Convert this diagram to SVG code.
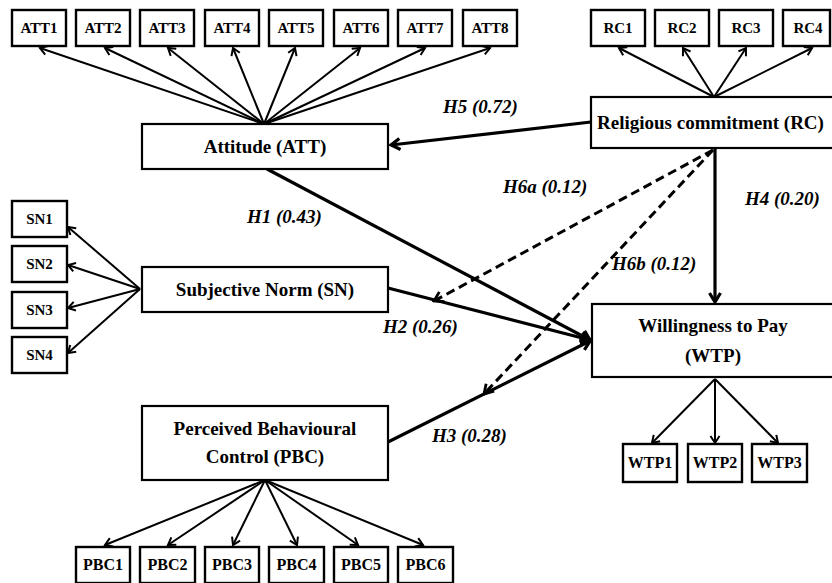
<svg xmlns="http://www.w3.org/2000/svg" width="832" height="583" viewBox="0 0 832 583">
<style>
.box{fill:#fff;stroke:#000;stroke-width:2.4}
.main{fill:#fff;stroke:#000;stroke-width:2.2}
.t{font-family:"Liberation Serif","Times New Roman",serif;font-weight:bold;fill:#000;text-anchor:middle}
.it{font-size:15px}
.mn{font-size:19px}
.lb{font-family:"Liberation Serif","Times New Roman",serif;font-weight:bold;font-style:italic;font-size:19px;fill:#000}
.thin{stroke:#000;stroke-width:2;fill:none;marker-end:url(#ah)}
.thick{stroke:#000;stroke-width:3.2;fill:none;marker-end:url(#ahb)}
.dash{stroke:#000;stroke-width:3;fill:none;stroke-dasharray:9 5;marker-end:url(#ahd)}
</style>
<defs>
<marker id="ah" viewBox="-10 -6 12 12" refX="0" refY="0" markerWidth="12" markerHeight="12" markerUnits="userSpaceOnUse" orient="auto">
<path d="M-7,-4.5 L0,0 L-7,4.5" fill="none" stroke="#000" stroke-width="2"/>
</marker>
<marker id="ahb" viewBox="-12 -7 14 14" refX="0" refY="0" markerWidth="14" markerHeight="14" markerUnits="userSpaceOnUse" orient="auto">
<path d="M-9,-5.5 L0,0 L-9,5.5" fill="none" stroke="#000" stroke-width="3.2"/>
</marker>
<marker id="ahd" viewBox="-12 -7 14 14" refX="0" refY="0" markerWidth="14" markerHeight="14" markerUnits="userSpaceOnUse" orient="auto">
<path d="M-9,-5.5 L0,0 L-9,5.5" fill="none" stroke="#000" stroke-width="2.8"/>
</marker>
</defs>
<g id="connectors">
<line class="thin" x1="264" y1="124" x2="40" y2="48"/>
<line class="thin" x1="264" y1="124" x2="105" y2="48"/>
<line class="thin" x1="264" y1="124" x2="168" y2="48"/>
<line class="thin" x1="264" y1="124" x2="233" y2="48"/>
<line class="thin" x1="264" y1="124" x2="295" y2="48"/>
<line class="thin" x1="264" y1="124" x2="360" y2="48"/>
<line class="thin" x1="264" y1="124" x2="425" y2="48"/>
<line class="thin" x1="264" y1="124" x2="490" y2="48"/>
<line class="thin" x1="714" y1="97" x2="619" y2="48"/>
<line class="thin" x1="714" y1="97" x2="683" y2="48"/>
<line class="thin" x1="714" y1="97" x2="746" y2="48"/>
<line class="thin" x1="714" y1="97" x2="812" y2="48"/>
<line class="thin" x1="140" y1="289" x2="68" y2="227"/>
<line class="thin" x1="140" y1="289" x2="68" y2="265"/>
<line class="thin" x1="140" y1="289" x2="68" y2="308"/>
<line class="thin" x1="140" y1="289" x2="68" y2="353"/>
<line class="thin" x1="265" y1="480" x2="105" y2="545"/>
<line class="thin" x1="265" y1="480" x2="168" y2="545"/>
<line class="thin" x1="265" y1="480" x2="233" y2="545"/>
<line class="thin" x1="265" y1="480" x2="297" y2="545"/>
<line class="thin" x1="265" y1="480" x2="358" y2="545"/>
<line class="thin" x1="265" y1="480" x2="423" y2="545"/>
<line class="thin" x1="715" y1="379" x2="652" y2="443"/>
<line class="thin" x1="715" y1="379" x2="715" y2="443"/>
<line class="thin" x1="715" y1="379" x2="778" y2="443"/>
<line class="thick" x1="591" y1="122" x2="391" y2="145"/>
<line class="thick" x1="715" y1="148" x2="715" y2="302"/>
<line class="thick" x1="267" y1="169" x2="590" y2="340"/>
<line class="thick" x1="388" y1="288" x2="590" y2="340"/>
<line class="thick" x1="388" y1="442" x2="590" y2="341"/>
<line class="dash" x1="713" y1="150" x2="434" y2="301"/>
<line class="dash" x1="713" y1="150" x2="484" y2="394"/>
</g>
<g id="ATT1"><rect class="box" x="12" y="10" width="54" height="36"/><text class="t it" x="39" y="33">ATT1</text></g>
<g id="ATT2"><rect class="box" x="76" y="10" width="54" height="36"/><text class="t it" x="103" y="33">ATT2</text></g>
<g id="ATT3"><rect class="box" x="140" y="10" width="54" height="36"/><text class="t it" x="167" y="33">ATT3</text></g>
<g id="ATT4"><rect class="box" x="205" y="10" width="54" height="36"/><text class="t it" x="232" y="33">ATT4</text></g>
<g id="ATT5"><rect class="box" x="269" y="10" width="54" height="36"/><text class="t it" x="296" y="33">ATT5</text></g>
<g id="ATT6"><rect class="box" x="334" y="10" width="54" height="36"/><text class="t it" x="361" y="33">ATT6</text></g>
<g id="ATT7"><rect class="box" x="398" y="10" width="54" height="36"/><text class="t it" x="425" y="33">ATT7</text></g>
<g id="ATT8"><rect class="box" x="463" y="10" width="54" height="36"/><text class="t it" x="490" y="33">ATT8</text></g>
<g id="RC1"><rect class="box" x="591" y="10" width="54" height="36"/><text class="t it" x="618" y="33">RC1</text></g>
<g id="RC2"><rect class="box" x="655" y="10" width="54" height="36"/><text class="t it" x="682" y="33">RC2</text></g>
<g id="RC3"><rect class="box" x="719" y="10" width="54" height="36"/><text class="t it" x="746" y="33">RC3</text></g>
<g id="RC4"><rect class="box" x="783" y="10" width="47" height="36"/><text class="t it" x="808" y="33">RC4</text></g>
<g id="SN1"><rect class="box" x="12" y="201" width="55" height="36"/><text class="t it" x="39.5" y="224">SN1</text></g>
<g id="SN2"><rect class="box" x="12" y="246" width="55" height="36"/><text class="t it" x="39.5" y="269">SN2</text></g>
<g id="SN3"><rect class="box" x="12" y="292" width="55" height="36"/><text class="t it" x="39.5" y="315">SN3</text></g>
<g id="SN4"><rect class="box" x="12" y="337" width="55" height="36"/><text class="t it" x="39.5" y="360">SN4</text></g>
<g id="PBC1"><rect class="box" x="76" y="547" width="54" height="36"/><text class="t it" x="103" y="570" style="font-size:16px">PBC1</text></g>
<g id="PBC2"><rect class="box" x="140" y="547" width="55" height="36"/><text class="t it" x="167.5" y="570" style="font-size:16px">PBC2</text></g>
<g id="PBC3"><rect class="box" x="205" y="547" width="54" height="36"/><text class="t it" x="232" y="570" style="font-size:16px">PBC3</text></g>
<g id="PBC4"><rect class="box" x="269" y="547" width="55" height="36"/><text class="t it" x="296.5" y="570" style="font-size:16px">PBC4</text></g>
<g id="PBC5"><rect class="box" x="334" y="547" width="54" height="36"/><text class="t it" x="361" y="570" style="font-size:16px">PBC5</text></g>
<g id="PBC6"><rect class="box" x="398" y="547" width="55" height="36"/><text class="t it" x="425.5" y="570" style="font-size:16px">PBC6</text></g>
<g id="WTP1"><rect class="box" x="623" y="444" width="54" height="38"/><text class="t it" x="650" y="468" style="font-size:16px">WTP1</text></g>
<g id="WTP2"><rect class="box" x="688" y="444" width="54" height="38"/><text class="t it" x="715" y="468" style="font-size:16px">WTP2</text></g>
<g id="WTP3"><rect class="box" x="752" y="444" width="55" height="38"/><text class="t it" x="779.5" y="468" style="font-size:16px">WTP3</text></g>
<g id="ATT"><rect class="main" x="142" y="124" width="246" height="45"/><text class="t mn" x="265" y="153">Attitude (ATT)</text></g>
<g id="SN"><rect class="main" x="142" y="267" width="246" height="45"/><text class="t mn" x="265" y="296">Subjective Norm (SN)</text></g>
<g id="PBC"><rect class="main" x="142" y="406" width="246" height="74"/><text class="t mn" x="265" y="435">Perceived Behavioural</text><text class="t mn" x="265" y="463">Control (PBC)</text></g>
<g id="RC"><rect class="main" x="591" y="97" width="250" height="51"/><text class="t mn" x="597" y="129" style="text-anchor:start">Religious commitment (RC)</text></g>
<g id="WTP"><rect class="main" x="592" y="304" width="250" height="73"/><text class="t mn" x="713" y="332">Willingness to Pay</text><text class="t mn" x="713" y="362">(WTP)</text></g>
<g id="labels">
<text class="lb" x="443" y="113">H5 (0.72)</text>
<text class="lb" x="503" y="193">H6a (0.12)</text>
<text class="lb" x="247" y="223">H1 (0.43)</text>
<text class="lb" x="745" y="205">H4 (0.20)</text>
<text class="lb" x="612" y="270">H6b (0.12)</text>
<text class="lb" x="383" y="333">H2 (0.26)</text>
<text class="lb" x="432" y="442">H3 (0.28)</text>
</g>
</svg>
